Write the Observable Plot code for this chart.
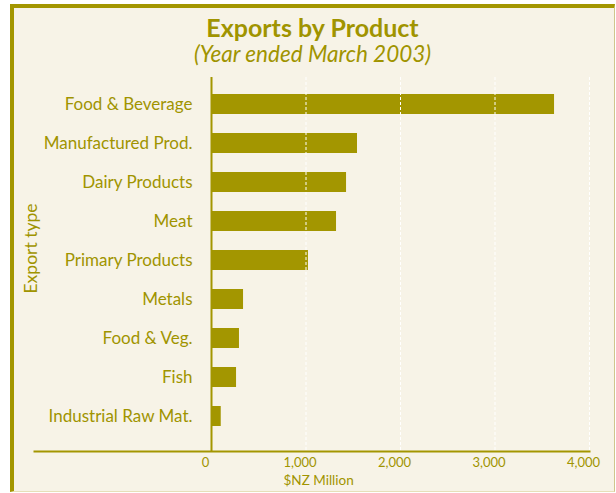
<!DOCTYPE html>
<html><head><meta charset="utf-8">
<script src="https://cdn.jsdelivr.net/npm/d3@7"></script>
<script src="https://cdn.jsdelivr.net/npm/@observablehq/plot@0.6"></script>
<style>
body{margin:0;background:#fff;width:616px;height:493px;overflow:hidden;font-family:Lato,sans-serif;position:relative}
#frame{position:absolute;left:10px;top:4px;width:605px;height:488px;box-sizing:border-box;background:#f7f3e7;border-left:4px solid #a39600;border-top:4px solid #a39600;border-right:1px solid #cfc68c;border-bottom:1px solid #e6dfb8}
#title{position:absolute;left:10px;width:605px;top:15px;line-height:1;text-align:center;font-weight:bold;font-size:25px;color:#a09400}
#subtitle{position:absolute;left:10px;width:605px;top:43px;line-height:1;text-align:center;font-style:italic;font-size:22.5px;color:#a09400}
#chart{position:absolute;left:0;top:70px}
</style></head>
<body>
<div id="frame"></div>
<div id="title">Exports by Product</div>
<div id="subtitle">(Year ended March 2003)</div>
<div id="chart"></div>
<script>
const categories = ["Food & Beverage","Manufactured Prod.","Dairy Products","Meat","Primary Products","Metals","Food & Veg.","Fish","Industrial Raw Mat."];
const values = [3630, 1545, 1429, 1323, 1026, 339, 296, 265, 103];
const xTicks = [0, 1000, 2000, 3000, 4000];
const olive = "#a39600";
const textOlive = "#a09400";
const data = categories.map((c, i) => ({category: c, value: values[i]}));

const chart = Plot.plot({
  width: 616, height: 423,
  marginLeft: 211, marginRight: 27, marginTop: 7, marginBottom: 42,
  style: {background: "transparent", fontFamily: "Lato, sans-serif", color: textOlive},
  x: {domain: [0, 4000], label: null},
  y: {domain: categories, paddingInner: 0.5, paddingOuter: 0.35, insetBottom: 9.5, label: null},
  marks: [
    Plot.barX(data, {x: "value", y: "category", fill: olive}),
    Plot.ruleX(xTicks.slice(1), {stroke: "white", strokeDasharray: "3,2", strokeWidth: 1}),
    Plot.ruleX([0], {stroke: olive, strokeWidth: 2}),
    Plot.frame({anchor: "bottom", stroke: olive, strokeWidth: 2, insetLeft: -177}),
    Plot.axisX({ticks: xTicks, tickSize: 0, tickPadding: 6, tickFormat: d3.format(","), fontSize: 13, fill: textOlive, dx: -6, label: null}),
    Plot.axisY({tickSize: 0, tickPadding: 19, fontSize: 17, fill: textOlive, label: null}),
    Plot.text(["Export type"], {frameAnchor: "left", rotate: -90, dx: -180, dy: 29, fontSize: 17.5, fill: textOlive}),
    Plot.text(["$NZ Million"], {frameAnchor: "bottom-left", textAnchor: "start", dx: 72, dy: 33, fontSize: 13.5, fill: textOlive})
  ]
});
document.getElementById("chart").appendChild(chart);
</script>
</body></html>
